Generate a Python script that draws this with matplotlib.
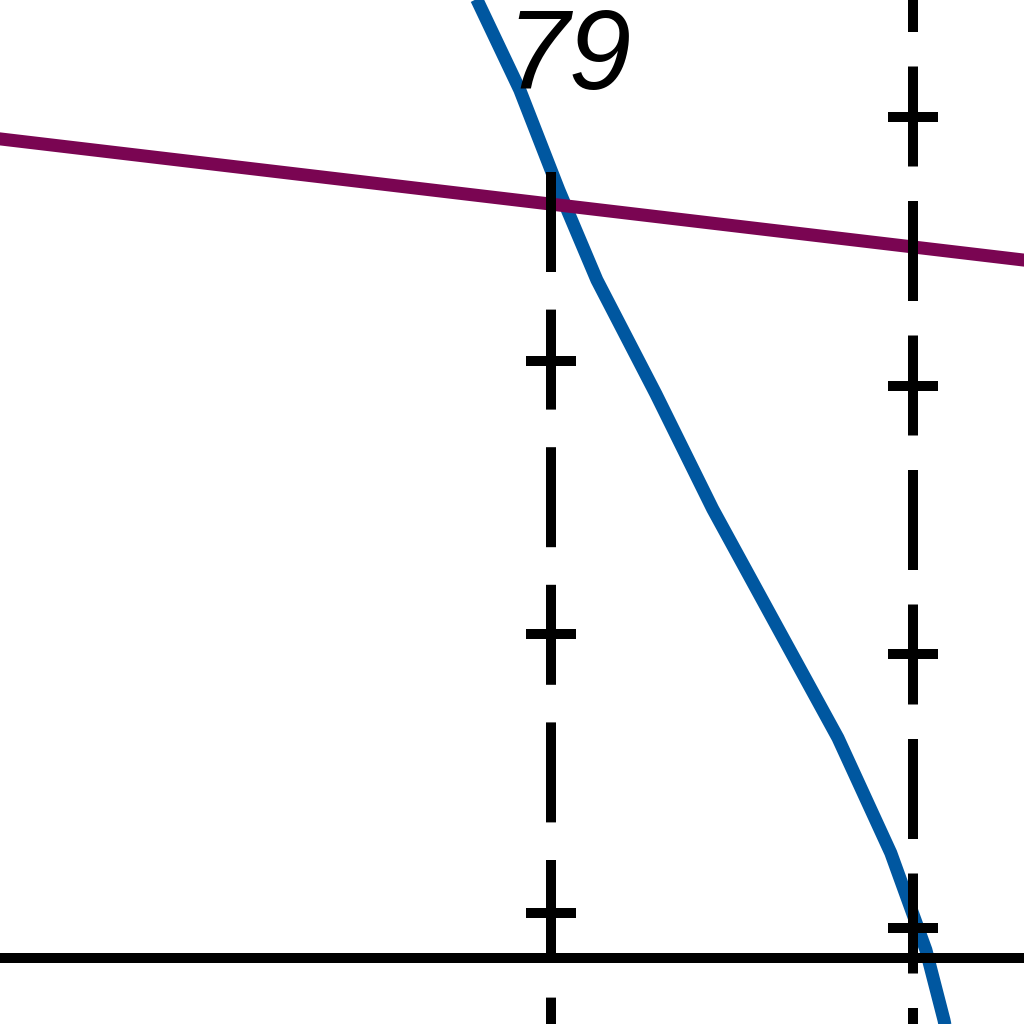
import matplotlib
matplotlib.use("Agg")
import matplotlib.pyplot as plt

# ---- data (x in scale units, y in scale units) ----
scale_x = [79, 80]                      # positions of the two dashed scales
left_top = 2.911                        # upper end of left scale line
right_top = 3.548                       # right scale line runs off the top
line_bottom = -0.35

left_ticks = [2.211, 1.200, 0.167]
right_ticks = [3.115, 2.119, 1.126, 0.111]

purple_x = [77.40, 80.40]
purple_y = [3.046, 2.570]

blue_x = [78.768, 78.796, 78.914, 79.022, 79.127, 79.290, 79.447, 79.619,
          79.793, 79.939, 80.036, 80.086, 80.097]
blue_y = [3.622, 3.548, 3.215, 2.844, 2.511, 2.089, 1.663, 1.241,
          0.815, 0.389, 0.030, -0.230, -0.304]

label_text = "79"
label_pos = (78.878, 3.219)

xlim = (77.478, 80.307)
ylim = (-0.2444, 3.548)

# ---- figure ----
fig = plt.figure(figsize=(10.24, 10.24), dpi=100)
ax = fig.add_axes([0, 0, 1, 1])
ax.set_xlim(*xlim)
ax.set_ylim(*ylim)
ax.axis("off")

px = 0.72  # points per pixel at dpi 100
lw_black = 10 * px
lw_curve = 13 * px

ax.plot(blue_x, blue_y, color="#0057a0", lw=lw_curve, solid_capstyle="butt",
        solid_joinstyle="miter", zorder=2)
ax.plot(purple_x, purple_y, color="#7a0552", lw=lw_curve, solid_capstyle="butt", zorder=3)

# horizontal base line
ax.axhline(0, color="black", lw=lw_black, zorder=4)

# dashed scale lines
ax.plot([scale_x[0], scale_x[0]], [left_top, line_bottom], color="black", lw=lw_black,
        linestyle=(0, (10, 3.76)), dash_capstyle="butt", zorder=4)
ax.plot([scale_x[1], scale_x[1]], [right_top, line_bottom], color="black", lw=lw_black,
        linestyle=(6.8, (10, 3.45)), dash_capstyle="butt", zorder=4)

# tick marks
ax.plot([scale_x[0]] * len(left_ticks), left_ticks, linestyle="none", marker="_",
        markersize=50 * px, markeredgewidth=lw_black, color="black", zorder=5)
ax.plot([scale_x[1]] * len(right_ticks), right_ticks, linestyle="none", marker="_",
        markersize=50 * px, markeredgewidth=lw_black, color="black", zorder=5)

ax.text(label_pos[0], label_pos[1], label_text, family="Liberation Sans", style="italic",
        fontsize=81, ha="left", va="baseline", color="black", zorder=6)

fig.savefig("out.png", dpi=100)
